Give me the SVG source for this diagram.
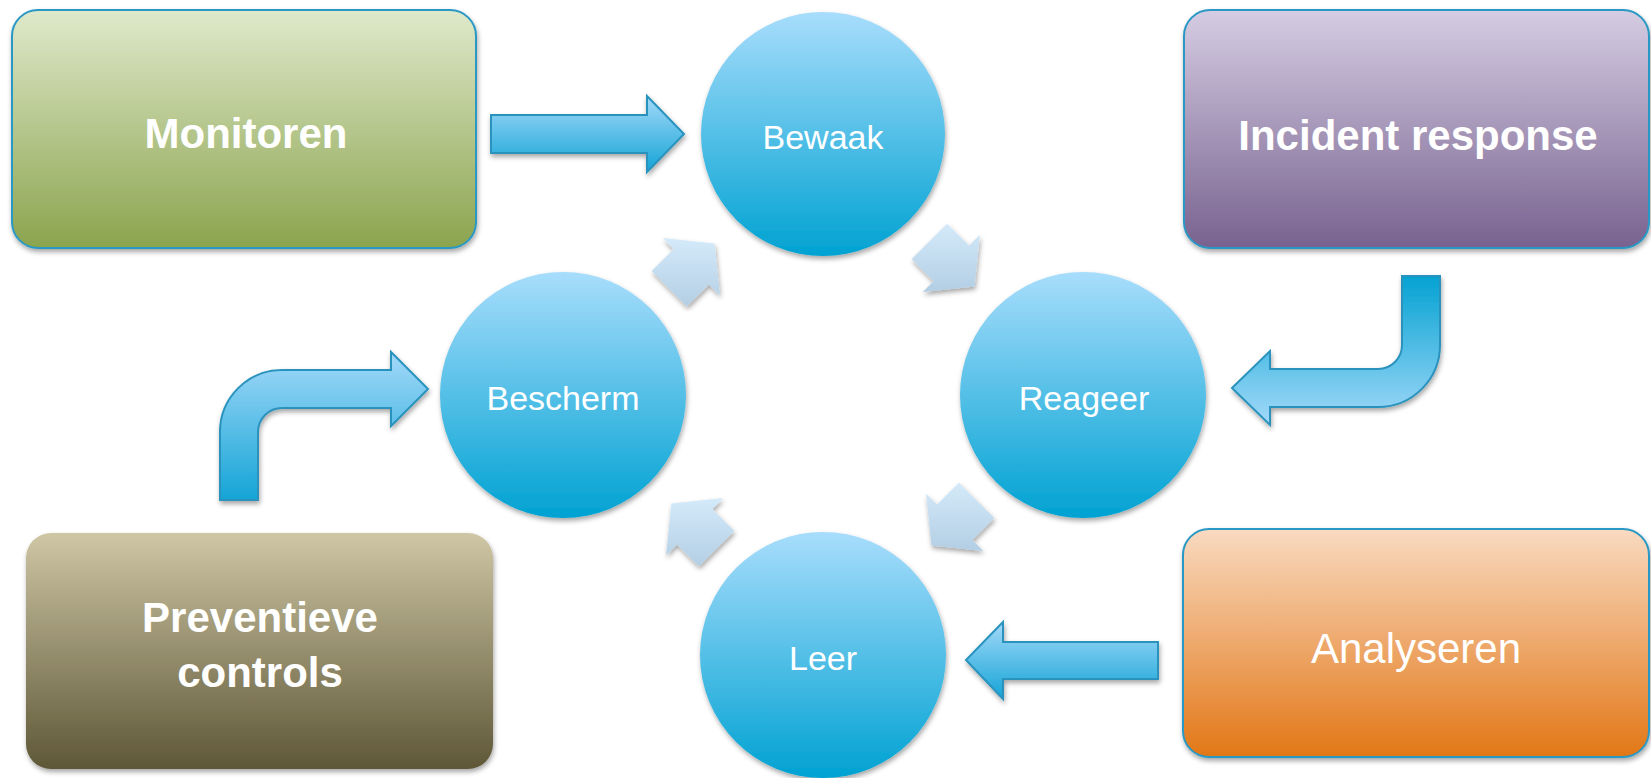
<svg xmlns="http://www.w3.org/2000/svg" width="1651" height="778" viewBox="0 0 1651 778">
<defs>
  <linearGradient id="gMon" x1="0" y1="0" x2="0" y2="1"><stop offset="0" stop-color="#dfe9cb"/><stop offset="1" stop-color="#8ba44e"/></linearGradient>
  <linearGradient id="gInc" x1="0" y1="0" x2="0" y2="1"><stop offset="0" stop-color="#d5cde3"/><stop offset="1" stop-color="#78628f"/></linearGradient>
  <linearGradient id="gPre" x1="0" y1="0" x2="0" y2="1"><stop offset="0" stop-color="#cec6a4"/><stop offset="1" stop-color="#5e5737"/></linearGradient>
  <linearGradient id="gAna" x1="0" y1="0" x2="0" y2="1"><stop offset="0" stop-color="#f9dac1"/><stop offset="1" stop-color="#e27716"/></linearGradient>
  <linearGradient id="gCir" x1="0" y1="0" x2="0" y2="1"><stop offset="0" stop-color="#a8ddfc"/><stop offset="1" stop-color="#00a2d2"/></linearGradient>
  <linearGradient id="gArr" x1="0" y1="0" x2="0" y2="1"><stop offset="0" stop-color="#a3d9f9"/><stop offset="1" stop-color="#14a4d6"/></linearGradient>
  <linearGradient id="gArrR" x1="0" y1="0" x2="0" y2="1"><stop offset="0" stop-color="#04a2d2"/><stop offset="1" stop-color="#a3d9f9"/></linearGradient>
  <linearGradient id="gPale" x1="0" y1="0" x2="0" y2="1"><stop offset="0" stop-color="#d4eafa"/><stop offset="1" stop-color="#b3cee4"/></linearGradient>
  <filter id="sh" x="-15%" y="-15%" width="135%" height="135%"><feDropShadow dx="1" dy="3" stdDeviation="2.5" flood-color="#000" flood-opacity="0.35"/></filter>
</defs>
<style>
  .box{stroke:#2b98c4;stroke-width:2;filter:url(#sh)}
  .circ{fill:url(#gCir);filter:url(#sh)}
  .blk{fill:url(#gArr);stroke:#2a93bd;stroke-width:2;stroke-linejoin:miter;filter:url(#sh)}
  .pale{fill:url(#gPale);filter:url(#sh)}
  .t{font-family:"Liberation Sans",Arial,sans-serif;fill:#ffffff;text-anchor:middle}
  .tb{font-weight:bold;font-size:42px}
  .tr{font-size:42px}
  .tc{font-size:34px}
</style>

<g id="connectors">
  <path class="blk" d="M491,115 L647,115 L647,96 L684,134 L647,172 L647,153 L491,153 Z"/>
  <path class="blk" style="fill:url(#gArrR)" d="M1402,276 L1440,276 L1440,345 A62,62 0 0 1 1378,407 L1270,407 L1270,425 L1232,388 L1270,351 L1270,369 L1378,369 A24,24 0 0 0 1402,345 Z"/>
  <path class="blk" d="M220,500 L220,432 A62,62 0 0 1 282,370 L391,370 L391,352 L428,389 L391,426 L391,408 L282,408 A24,24 0 0 0 258,432 L258,500 Z"/>
  <path class="blk" d="M1158,642 L1003,642 L1003,622 L966,660 L1003,699 L1003,679 L1158,679 Z"/>
  <polygon class="pale" points="651.7,271 673.6,249 662.7,238.1 714.6,243.4 719.9,295.3 709,284.4 687,306.3"/>
  <polygon class="pale" points="947,223.7 969,245.6 979.9,234.7 974.6,286.6 922.7,291.9 933.6,281 911.7,259"/>
  <polygon class="pale" points="994.3,518 972.4,540 983.3,550.9 931.4,545.6 926.1,493.7 937,504.6 959,482.7"/>
  <polygon class="pale" points="699,566.3 677,544.4 666.1,555.3 671.4,503.4 723.3,498.1 712.4,509 734.3,531"/>
</g>

<g id="monitoren">
  <rect class="box" x="12" y="10" width="464" height="238" rx="26" fill="url(#gMon)"/>
  <text class="t tb" x="246" y="148">Monitoren</text>
</g>
<g id="incident-response">
  <rect class="box" x="1184" y="10" width="465" height="238" rx="26" fill="url(#gInc)"/>
  <text class="t tb" x="1418" y="150">Incident response</text>
</g>
<g id="preventieve-controls">
  <rect x="26" y="533" width="467" height="236" rx="25" fill="url(#gPre)" filter="url(#sh)"/>
  <text class="t tb" x="260" y="632">Preventieve</text>
  <text class="t tb" x="260" y="687">controls</text>
</g>
<g id="analyseren">
  <rect class="box" x="1183" y="529" width="466" height="228" rx="26" fill="url(#gAna)"/>
  <text class="t tr" x="1416" y="663">Analyseren</text>
</g>

<g id="bewaak">
  <circle class="circ" cx="823" cy="134" r="122"/>
  <text class="t tc" x="823" y="149">Bewaak</text>
</g>
<g id="reageer">
  <circle class="circ" cx="1083" cy="395" r="123"/>
  <text class="t tc" x="1084" y="410">Reageer</text>
</g>
<g id="bescherm">
  <circle class="circ" cx="563" cy="395" r="123"/>
  <text class="t tc" x="563" y="410">Bescherm</text>
</g>
<g id="leer">
  <circle class="circ" cx="823" cy="655" r="123"/>
  <text class="t tc" x="823" y="670">Leer</text>
</g>
</svg>
